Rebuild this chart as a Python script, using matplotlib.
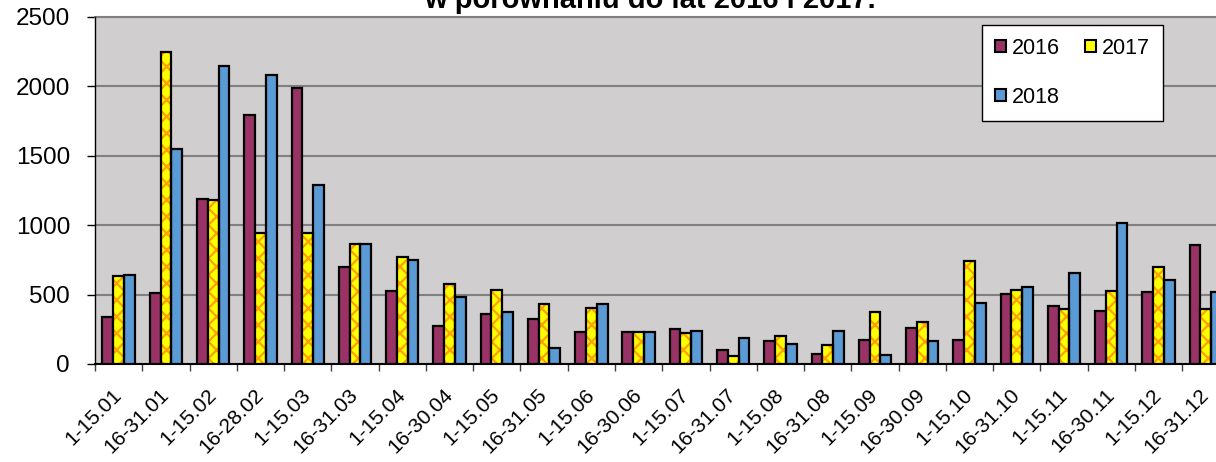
import numpy as np
import matplotlib
matplotlib.use('Agg')
import matplotlib.pyplot as plt
from matplotlib.patches import Patch

plt.rcParams['font.family'] = ['Liberation Sans', 'DejaVu Sans']
plt.rcParams['hatch.linewidth'] = 1.6

# okresy (półmiesiące)
labels = ['1-15.01', '16-31.01', '1-15.02', '16-28.02', '1-15.03', '16-31.03',
          '1-15.04', '16-30.04', '1-15.05', '16-31.05', '1-15.06', '16-30.06',
          '1-15.07', '16-31.07', '1-15.08', '16-31.08', '1-15.09', '16-30.09',
          '1-15.10', '16-31.10', '1-15.11', '16-30.11', '1-15.12', '16-31.12']
v2016 = [337, 514, 1187, 1791, 1988, 697, 524, 272, 363, 324, 229, 228,
         250, 99, 168, 72, 175, 257, 175, 505, 415, 384, 516, 855]
v2017 = [635, 2248, 1178, 942, 942, 863, 774, 579, 531, 430, 406, 228,
         221, 58, 202, 139, 377, 305, 743, 534, 396, 527, 700, 396]
v2018 = [640, 1548, 2149, 2079, 1288, 868, 752, 483, 377, 117, 435, 232,
         240, 187, 146, 236, 65, 164, 440, 557, 656, 1013, 605, 516]

c2016 = '#993366'
c2017 = '#FFFF00'
c2017_hatch = '#FFA000'
c2018 = '#5B9BD5'

W, H = 1216, 462
fig = plt.figure(figsize=(W / 100, H / 100), dpi=100)
ax = fig.add_axes([95 / W, (H - 364) / H, 1134.5 / W, 347 / H])
ax.set_facecolor('#D0CECF')

x = np.arange(len(labels))
bw = 0.228

ax.bar(x - bw, v2016, bw, color=c2016, edgecolor='black', linewidth=1.6, zorder=3)
# 2017: yellow with orange pattern, black edge drawn on top
ax.bar(x, v2017, bw, color=c2017, edgecolor=c2017_hatch, hatch='xx', linewidth=0, zorder=3)
ax.bar(x, v2017, bw, fill=False, edgecolor='black', linewidth=1.6, zorder=4)
ax.bar(x + bw, v2018, bw, color=c2018, edgecolor='black', linewidth=1.6, zorder=3)

ax.set_xlim(-0.5, len(labels) - 0.5)
ax.set_ylim(0, 2500)
ax.set_yticks(range(0, 2501, 500))
ax.yaxis.grid(True, color='#808080', linewidth=1.5, zorder=1)
ax.set_axisbelow(True)

ax.set_xticks(x)
ax.set_xticklabels(labels, rotation=45, ha='right', va='center', rotation_mode='anchor')
ax.set_xticks(np.arange(-0.5, len(labels), 1), minor=True)
ax.tick_params(axis='x', which='major', length=0, pad=20, labelsize=15)
ax.tick_params(axis='x', which='minor', length=5, width=1, color='#404040')
ax.tick_params(axis='y', length=6, width=1, pad=12, labelsize=17.5)

for side in ['top', 'right']:
    ax.spines[side].set_visible(False)
ax.spines['left'].set_linewidth(1)
ax.spines['bottom'].set_linewidth(1.5)
ax.axhline(2500, color='#808080', linewidth=1.5, zorder=2, clip_on=False)

handles = [Patch(facecolor=c2016, edgecolor='black', linewidth=1.5),
           Patch(facecolor=c2018, edgecolor='black', linewidth=1.5),
           Patch(facecolor=c2017, edgecolor='black', linewidth=1.5)]
leg = fig.legend(handles, ['2016', '2018', '2017'], ncol=2,
                 loc='upper left', bbox_to_anchor=(982 / W, 1 - 25 / H),
                 frameon=True, fancybox=False, framealpha=1, edgecolor='black',
                 fontsize=15.5, handlelength=0.5, handleheight=0.5, handletextpad=0.27,
                 labelspacing=1.3, columnspacing=1.2, borderpad=0.6, borderaxespad=0)
leg.get_frame().set_linewidth(1)

fig.text(650 / W, 1 - 8 / H, 'w porównaniu do lat 2016 i 2017.', ha='center',
         va='baseline', fontsize=21, fontweight='bold')

fig.savefig('out.png', dpi=100)
